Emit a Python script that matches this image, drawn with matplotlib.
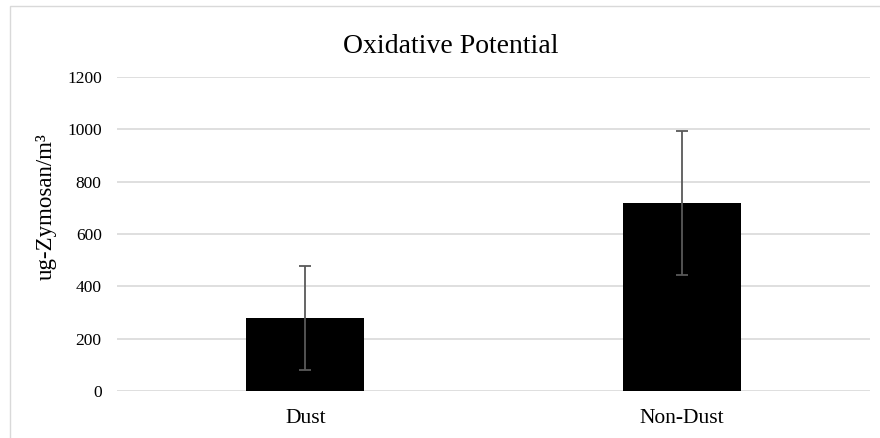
import matplotlib
matplotlib.use("Agg")
import matplotlib.pyplot as plt
from matplotlib.patches import Rectangle

categories = ["Dust", "Non-Dust"]
means = [279, 720]
errors = [199, 275]
y_ticks = [0, 200, 400, 600, 800, 1000, 1200]

plt.rcParams["font.family"] = ["Liberation Serif", "DejaVu Serif"]

W, H = 880, 438
fig = plt.figure(figsize=(W / 100, H / 100), dpi=100)
ax = fig.add_axes([117 / W, 1 - 391 / H, 753 / W, 314 / H])

x = range(len(categories))
ax.bar(x, means, width=0.313, color="black", zorder=2)
ax.errorbar(x, means, yerr=errors, fmt="none", ecolor="#595959",
            elinewidth=1.3, capsize=4, capthick=1.3, zorder=3)

ax.set_xlim(-0.5, 1.5)
ax.set_ylim(0, 1200)
ax.set_yticks(y_ticks)
ax.set_xticks(list(x))
ax.set_xticklabels(categories, fontsize=15.5)
ax.tick_params(axis="both", length=0)
ax.tick_params(axis="y", pad=11, labelsize=12.5)
ax.tick_params(axis="x", pad=13)

ax.yaxis.grid(True, color="#d9d9d9", linewidth=1.2, zorder=0)
ax.set_axisbelow(True)
for s in ax.spines.values():
    s.set_visible(False)

fig.text(46 / W, 1 - 206.5 / H, "ug-Zymosan/m³", fontsize=16.5,
         rotation=90, ha="center", va="center")
fig.text(451 / W, 1 - 53 / H, "Oxidative Potential", fontsize=20,
         ha="center", va="baseline")

# light border round the chart area
fig.patches.append(Rectangle((10 / W, -0.02), 1.0, 1.0 - 6 / H + 0.02,
                             transform=fig.transFigure, fill=False,
                             edgecolor="#d9d9d9", linewidth=1.0))

fig.savefig("out.png", dpi=100)
